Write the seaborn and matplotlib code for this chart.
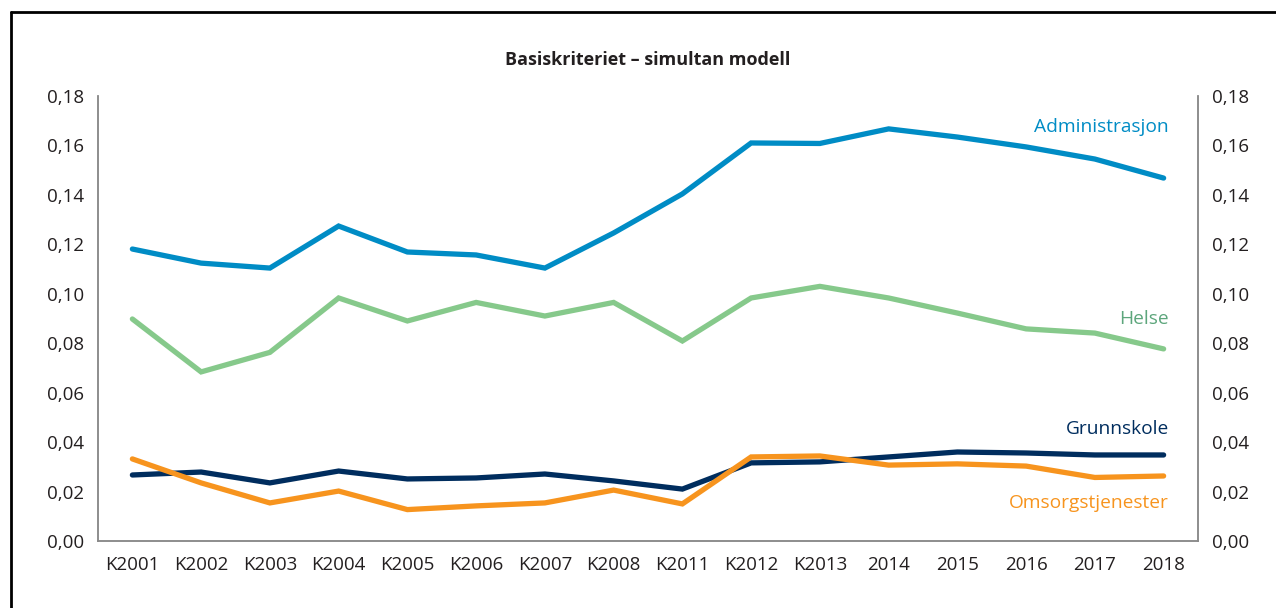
import pandas as pd
import seaborn as sns
import matplotlib.pyplot as plt
from matplotlib.lines import Line2D
from matplotlib.ticker import FuncFormatter


# ======================================
# DATA
# ======================================

PERIODS = [
    "K2001", "K2002", "K2003", "K2004", "K2005", "K2006", "K2007", "K2008",
    "K2011", "K2012", "K2013", "2014", "2015", "2016", "2017", "2018"
]

administrasjon = [
    0.1181, 0.1124, 0.1104, 0.1274, 0.1169, 0.1157, 0.1104, 0.1246,
    0.1404, 0.1610, 0.1608, 0.1667, 0.1634, 0.1594, 0.1545, 0.1468
]

helse = [
    0.0898, 0.0684, 0.0763, 0.0983, 0.0890, 0.0965, 0.0910, 0.0965,
    0.0809, 0.0983, 0.1030, 0.0983, 0.0922, 0.0858, 0.0841, 0.0777
]

grunnskole = [
    0.0267, 0.0279, 0.0235, 0.0283, 0.0251, 0.0255, 0.0271, 0.0243,
    0.0210, 0.0316, 0.0320, 0.0340, 0.0360, 0.0356, 0.0348, 0.0348
]

omsorg = [
    0.0332, 0.0235, 0.0154, 0.0202, 0.0127, 0.0142, 0.0154, 0.0206,
    0.0150, 0.0340, 0.0344, 0.0307, 0.0312, 0.0303, 0.0257, 0.0263
]

SERIES = ["Administrasjon", "Helse", "Grunnskole", "Omsorgstjenester"]

LINE_COLORS = {
    "Administrasjon": "#008CC5",
    "Helse": "#86C98B",
    "Grunnskole": "#002D5E",
    "Omsorgstjenester": "#F7941E",
}

LABEL_COLORS = {
    "Administrasjon": "#008CC5",
    "Helse": "#5DA67C",
    "Grunnskole": "#002D5E",
    "Omsorgstjenester": "#F7941E",
}

LABEL_Y = {
    "Administrasjon": 0.1675,
    "Helse": 0.0900,
    "Grunnskole": 0.0455,
    "Omsorgstjenester": 0.0152,
}


# ======================================
# LONG FORMAT
# ======================================

df = pd.DataFrame({
    "periode": PERIODS,
    "Administrasjon": administrasjon,
    "Helse": helse,
    "Grunnskole": grunnskole,
    "Omsorgstjenester": omsorg,
})

long_df = df.melt(
    id_vars="periode",
    var_name="sektor",
    value_name="verdi"
)


# ======================================
# CHART
# ======================================

sns.set_theme(style="white")
plt.rcParams["font.family"] = ["Open Sans", "DejaVu Sans"]

fig = plt.figure(figsize=(12.76, 6.08), dpi=100)
ax = fig.add_axes([98 / 1276, 67 / 608, 1100 / 1276, 445 / 608])

sns.lineplot(
    data=long_df,
    x="periode",
    y="verdi",
    hue="sektor",
    hue_order=SERIES,
    palette=LINE_COLORS,
    linewidth=3.8,
    legend=False,
    sort=False,
    ax=ax
)

for line in ax.lines:
    line.set_solid_capstyle("round")
    line.set_solid_joinstyle("miter")

ax.set_xlim(-0.5, len(PERIODS) - 0.5)
ax.set_ylim(0, 0.18)
ax.set_yticks([i * 0.02 for i in range(10)])

comma_fmt = FuncFormatter(lambda v, p: f"{v:.2f}".replace(".", ","))
ax.yaxis.set_major_formatter(comma_fmt)

ax.set_xlabel("")
ax.set_ylabel("")

ax2 = ax.twinx()
ax2.set_ylim(0, 0.18)
ax2.set_yticks([i * 0.02 for i in range(10)])
ax2.yaxis.set_major_formatter(comma_fmt)

for a in (ax, ax2):
    a.tick_params(axis="both", length=0, labelsize=13.5, colors="#231F20")
    a.spines["top"].set_visible(False)
    for s in ("left", "right", "bottom"):
        a.spines[s].set_color("#8A8A8A")
        a.spines[s].set_linewidth(1.1)

ax.tick_params(axis="y", pad=10)
ax2.tick_params(axis="y", pad=10)
ax.tick_params(axis="x", pad=11)

for name in SERIES:
    ax.text(
        15.08,
        LABEL_Y[name],
        name,
        ha="right",
        va="center",
        fontsize=13.8,
        color=LABEL_COLORS[name]
    )

ax.set_title(
    "Basiskriteriet – simultan modell",
    fontsize=13,
    fontweight="bold",
    color="#231F20",
    pad=22
)

# frame around the figure
fig.add_artist(Line2D([11 / 1276, 11 / 1276], [0, 1 - 12 / 608],
                      color="black", linewidth=2, transform=fig.transFigure))
fig.add_artist(Line2D([11 / 1276, 1], [1 - 12 / 608, 1 - 12 / 608],
                      color="black", linewidth=2, transform=fig.transFigure))

fig.savefig("out.png", dpi=100)
